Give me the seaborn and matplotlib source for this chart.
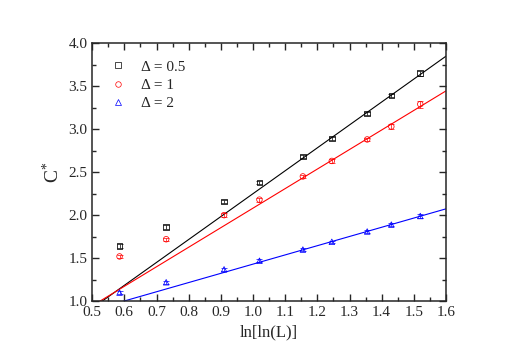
import numpy as np
import pandas as pd
import matplotlib
matplotlib.use('Agg')
import matplotlib.pyplot as plt
from matplotlib.ticker import MultipleLocator
from matplotlib.lines import Line2D
import seaborn as sns

# data
lnlnL = [0.585, 0.73, 0.91, 1.02, 1.155, 1.245, 1.355, 1.43, 1.52]
c_05 = [1.64, 1.86, 2.16, 2.38, 2.68, 2.89, 3.18, 3.39, 3.65]
c_1 = [1.52, 1.72, 2.00, 2.18, 2.45, 2.63, 2.88, 3.03, 3.29]
c_2 = [1.10, 1.22, 1.37, 1.47, 1.60, 1.69, 1.81, 1.89, 1.99]
err_05 = [0.02, 0.02, 0.02, 0.02, 0.015, 0.015, 0.02, 0.02, 0.03]
err_1 = [0.02, 0.02, 0.02, 0.025, 0.02, 0.02, 0.02, 0.025, 0.04]
err_2 = [0.02, 0.02, 0.02, 0.02, 0.015, 0.015, 0.02, 0.02, 0.02]
labels = ['Δ = 0.5', 'Δ = 1', 'Δ = 2']
colors = ['black', 'red', 'blue']
markers = ['s', 'o', '^']

sns.set_style("ticks")
plt.rcParams['font.family'] = ['Liberation Serif', 'DejaVu Serif']
plt.rcParams['mathtext.fontset'] = 'custom'
plt.rcParams['mathtext.rm'] = 'Liberation Serif'
plt.rcParams['mathtext.it'] = 'Liberation Serif:italic'

fig = plt.figure(figsize=(5.18, 3.62), dpi=100)
ax = fig.add_axes([0.178, 0.168, 0.683, 0.713])

xfit = np.linspace(0.5, 1.6, 50)
handles = []
for ys, es, lab, col, mk in zip([c_05, c_1, c_2], [err_05, err_1, err_2],
                                labels, colors, markers):
    d = pd.DataFrame({'x': lnlnL, 'y': ys, 'err': es})
    ax.errorbar(d.x, d.y, yerr=d.err, fmt='none', ecolor=col,
                elinewidth=0.5, capsize=2, capthick=0.5)
    # linear fit on the large-L points
    p = np.polyfit(d.x.values[4:], d.y.values[4:], 1)
    fit = pd.DataFrame({'x': xfit, 'y': np.polyval(p, xfit)})
    sns.lineplot(data=fit, x='x', y='y', color=col, lw=0.8, ax=ax)
    sns.scatterplot(data=d, x='x', y='y', marker=mk, s=16, facecolor='none',
                    edgecolor=col, linewidth=0.55, ax=ax, zorder=5)
    handles.append(Line2D([], [], ls='none', marker=mk, ms=4, mfc='none',
                          mec=col, mew=0.5))

ax.set_xlim(0.5, 1.6)
ax.set_ylim(1.0, 4.0)
ax.xaxis.set_major_locator(MultipleLocator(0.1))
ax.xaxis.set_minor_locator(MultipleLocator(0.05))
ax.yaxis.set_major_locator(MultipleLocator(0.5))
ax.yaxis.set_minor_locator(MultipleLocator(0.25))
ax.tick_params(which='both', direction='in', top=True, right=True,
               labelsize=11, width=1)
ax.tick_params(which='major', length=5)
ax.tick_params(which='minor', length=3)
for s in ax.spines.values():
    s.set_linewidth(1.1)
ax.set_xlabel('ln[ln(L)]', fontsize=12)
ax.set_ylabel(r'C$^{*}$', fontsize=14)

ax.legend(handles, labels, loc='upper left', frameon=False,
          fontsize=11, handletextpad=0.9, borderaxespad=0.7,
          labelspacing=0.3, handlelength=1.2)

fig.savefig('out.png', dpi=100)
